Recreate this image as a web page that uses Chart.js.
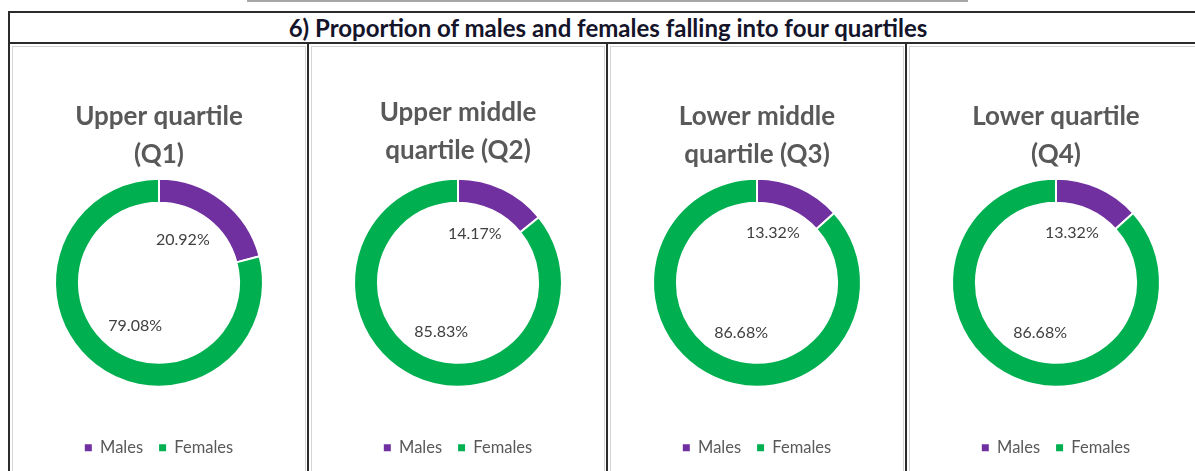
<!DOCTYPE html>
<html>
<head>
<meta charset="utf-8">
<script src="https://cdn.jsdelivr.net/npm/chart.js@4.4.0/dist/chart.umd.min.js"></script>
<style>
  body { margin: 0; background: #fff; width: 1195px; height: 471px; overflow: hidden; position: relative; font-family: Lato, sans-serif; }
  .topline { position: absolute; left: 247px; top: 0; width: 721px; height: 2px; background: #a6a6a6; }
  .titlerow { position: absolute; left: 8px; top: 11px; width: 1200px; height: 33px; box-sizing: border-box;
    border: 2px solid #2b2b2b; text-align: center; font-weight: bold; font-size: 24px; line-height: 29px; color: #14142a; }
  .col { position: absolute; top: 43px; width: 299px; height: 440px; box-sizing: border-box; border-left: 2px solid #2b2b2b; }
  .box { position: absolute; left: 2px; top: 3px; width: 294px; height: 440px; box-sizing: border-box; border: 1px solid #d4d4d4; }
  .box canvas { position: absolute; left: 0; top: 0; }
</style>
</head>
<body>
<div class="topline"></div>
<div class="titlerow">6) Proportion of males and females falling into four quartiles</div>
<div id="cols"></div>
<script>
// chart data
const panelTitles = [
  ["Upper quartile", "(Q1)"],
  ["Upper middle", "quartile (Q2)"],
  ["Lower middle", "quartile (Q3)"],
  ["Lower quartile", "(Q4)"],
];
const categories = ["Males", "Females"];
const malesPct = [20.92, 14.17, 13.32, 13.32];
const femalesPct = [79.08, 85.83, 86.68, 86.68];
const sliceColors = ["#7030A0", "#00B050"];

// draws the percentage labels inside the ring
const pctLabels = {
  id: "pctLabels",
  afterDatasetsDraw(chart) {
    const ctx = chart.ctx;
    const meta = chart.getDatasetMeta(0);
    ctx.save();
    ctx.font = "16px Lato";
    ctx.fillStyle = "#404040";
    ctx.textAlign = "center";
    ctx.textBaseline = "middle";
    meta.data.forEach((arc, i) => {
      const p = arc.getProps(["x", "y", "startAngle", "endAngle", "innerRadius"], true);
      const mid = (p.startAngle + p.endAngle) / 2;
      const r = p.innerRadius * 0.65;
      const value = chart.data.datasets[0].data[i];
      ctx.fillText(value.toFixed(2) + "%", p.x + Math.cos(mid) * r * 0.75, p.y + Math.sin(mid) * r * 1.05);
    });
    ctx.restore();
  },
};

const cols = document.getElementById("cols");

panelTitles.forEach((title, i) => {
  const col = document.createElement("div");
  col.className = "col";
  col.style.left = 8 + i * 299 + "px";
  const box = document.createElement("div");
  box.className = "box";
  const canvas = document.createElement("canvas");
  canvas.width = 292;
  canvas.height = 423;
  box.appendChild(canvas);
  col.appendChild(box);
  cols.appendChild(col);

  new Chart(canvas, {
    type: "doughnut",
    data: {
      labels: categories,
      datasets: [
        {
          data: [malesPct[i], femalesPct[i]],
          backgroundColor: sliceColors,
          borderColor: "#ffffff",
          borderWidth: 2,
        },
      ],
    },
    plugins: [pctLabels],
    options: {
      responsive: false,
      animation: false,
      radius: 104,
      cutout: "77%",
      layout: { padding: { bottom: 4 } },
      plugins: {
        tooltip: { enabled: false },
        title: {
          display: true,
          text: title,
          color: "#595959",
          font: { family: "Lato", size: 26, weight: "bold", lineHeight: 1.46 },
          padding: { top: i === 1 ? 47 : 51, bottom: i === 1 ? 4 : 0 },
        },
        legend: {
          position: "bottom",
          title: { display: true, text: "", font: { size: 1, lineHeight: 1 }, padding: { top: 31, bottom: 0 } },
          labels: {
            boxWidth: 7,
            boxHeight: 7,
            padding: 16,
            color: "#595959",
            font: { family: "Lato", size: 16.5 },
            generateLabels: (chart) =>
              Chart.overrides.doughnut.plugins.legend.labels
                .generateLabels(chart)
                .map((l) => ({ ...l, lineWidth: 0 })),
          },
        },
      },
    },
  });
});
</script>
</body>
</html>
